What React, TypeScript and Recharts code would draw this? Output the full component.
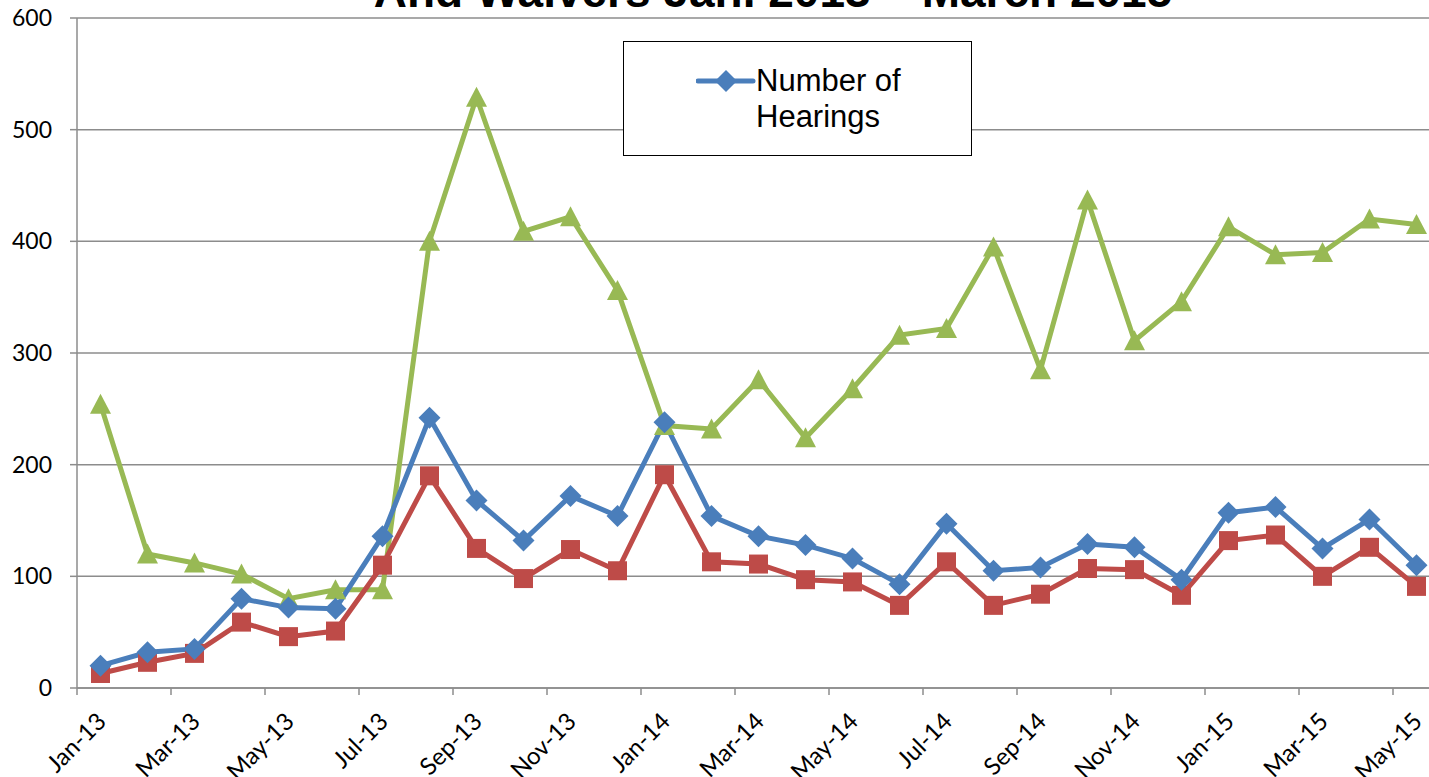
import { LineChart, Line, XAxis, YAxis, CartesianGrid, Legend } from "recharts";

const MONTHS = [
  "Jan-13", "Feb-13", "Mar-13", "Apr-13", "May-13", "Jun-13", "Jul-13", "Aug-13", "Sep-13", "Oct-13",
  "Nov-13", "Dec-13", "Jan-14", "Feb-14", "Mar-14", "Apr-14", "May-14", "Jun-14", "Jul-14", "Aug-14",
  "Sep-14", "Oct-14", "Nov-14", "Dec-14", "Jan-15", "Feb-15", "Mar-15", "Apr-15", "May-15",
];

const HEARINGS = [
  20, 32, 35, 80, 72, 71, 136, 242, 168, 132,
  172, 154, 238, 154, 136, 128, 116, 93, 147, 105,
  108, 129, 126, 97, 157, 162, 125, 151, 110,
];

const WAIVERS = [
  13, 23, 31, 59, 46, 51, 110, 190, 125, 98,
  124, 105, 191, 113, 111, 97, 95, 74, 113, 74,
  84, 107, 106, 83, 132, 137, 100, 126, 91,
];

const REQUESTS = [
  254, 120, 112, 102, 80, 88, 88, 400, 529, 409,
  422, 356, 235, 232, 276, 224, 268, 316, 322, 395,
  285, 437, 311, 346, 413, 388, 390, 420, 415,
];

const Y_TICKS = [0, 100, 200, 300, 400, 500, 600];

const BLUE = "#4A7EBB";
const RED = "#BE4B48";
const GREEN = "#98B954";
const GRID = "#8C8C8C";

const data = MONTHS.map((month, i) => ({
  month,
  hearings: HEARINGS[i],
  waivers: WAIVERS[i],
  requests: REQUESTS[i],
}));

const Diamond = ({ cx, cy }: any) =>
  cx == null ? null : (
    <path d={`M${cx},${cy - 11}L${cx + 11},${cy}L${cx},${cy + 11}L${cx - 11},${cy}Z`} fill={BLUE} />
  );

const Square = ({ cx, cy }: any) =>
  cx == null ? null : <rect x={cx - 9.5} y={cy - 9.5} width={19} height={19} fill={RED} />;

const Triangle = ({ cx, cy }: any) =>
  cx == null ? null : (
    <path d={`M${cx},${cy - 10.5}L${cx + 10.5},${cy + 9.5}L${cx - 10.5},${cy + 9.5}Z`} fill={GREEN} />
  );

// tick mark sits on the category boundary, label under the category centre
const MonthTick = ({ x, y, payload }: any) => (
  <g>
    <line x1={x - 23.5} x2={x - 23.5} y1={y} y2={y + 7} stroke={GRID} strokeWidth={1.5} />
    <text
      x={x + 7}
      y={y + 35}
      textAnchor="end"
      transform={`rotate(-45, ${x + 7}, ${y + 35})`}
      fontFamily="Lato"
      fontSize={24}
      fill="#000"
    >
      {payload.value}
    </text>
  </g>
);

const LegendBox = () => (
  <div
    style={{
      width: 349,
      height: 115,
      border: "1.5px solid #000",
      background: "#fff",
      boxSizing: "border-box",
      position: "relative",
      fontFamily: "'Liberation Sans', Arial, sans-serif",
      fontSize: 31,
      lineHeight: "36px",
      color: "#000",
      textAlign: "left",
    }}
  >
    <svg width={60} height={30} style={{ position: "absolute", left: 72, top: 24 }}>
      <line x1={2} x2={57} y1={15} y2={15} stroke={BLUE} strokeWidth={5} strokeLinecap="round" />
      <path d="M30,4L41,15L30,26L19,15Z" fill={BLUE} />
    </svg>
    <div style={{ position: "absolute", left: 132, top: 21 }}>
      Number of
      <br />
      Hearings
    </div>
  </div>
);

export default function App() {
  return (
    <div
      style={{
        position: "fixed",
        left: 0,
        top: 0,
        width: 1429,
        height: 777,
        overflow: "hidden",
        background: "#fff",
      }}
    >
      <LineChart
        width={1460}
        height={777}
        data={data}
        margin={{ top: 18, right: 20, bottom: 9, left: 17 }}
      >
        <CartesianGrid vertical={false} stroke={GRID} strokeWidth={1.5} />
        <XAxis
          dataKey="month"
          scale="band"
          interval={1}
          height={80}
          tickSize={0}
          tickMargin={0}
          tickLine={false}
          axisLine={{ stroke: GRID, strokeWidth: 1.5 }}
          tick={<MonthTick />}
        />
        <YAxis
          width={60}
          domain={[0, 600]}
          ticks={Y_TICKS}
          tickSize={7}
          tickMargin={18}
          axisLine={{ stroke: GRID, strokeWidth: 1.5 }}
          tickLine={{ stroke: GRID, strokeWidth: 1.5 }}
          tick={{ fontFamily: "Lato", fontSize: 23, fill: "#000" }}
        />
        <Legend
          layout="horizontal"
          verticalAlign="middle"
          align="center"
          content={() => <LegendBox />}
          wrapperStyle={{ position: "absolute", left: 623, top: 41, width: 349, height: 115 }}
        />
        <Line
          dataKey="requests"
          name="Number of Requests"
          stroke={GREEN}
          strokeWidth={5}
          dot={<Triangle />}
          activeDot={false}
          isAnimationActive={false}
        />
        <Line
          dataKey="waivers"
          name="Number of Waivers"
          stroke={RED}
          strokeWidth={5}
          dot={<Square />}
          activeDot={false}
          isAnimationActive={false}
        />
        <Line
          dataKey="hearings"
          name="Number of Hearings"
          stroke={BLUE}
          strokeWidth={5}
          dot={<Diamond />}
          activeDot={false}
          isAnimationActive={false}
        />
      </LineChart>
      <svg
        width={1429}
        height={60}
        style={{ position: "absolute", left: 0, top: 0, pointerEvents: "none" }}
      >
        <text
          x={773}
          y={7}
          textAnchor="middle"
          fontFamily="'Liberation Sans', Arial, sans-serif"
          fontWeight="bold"
          fontSize={46}
          fill="#000"
        >
          And Waivers Jan. 2013 – March 2015
        </text>
      </svg>
    </div>
  );
}
